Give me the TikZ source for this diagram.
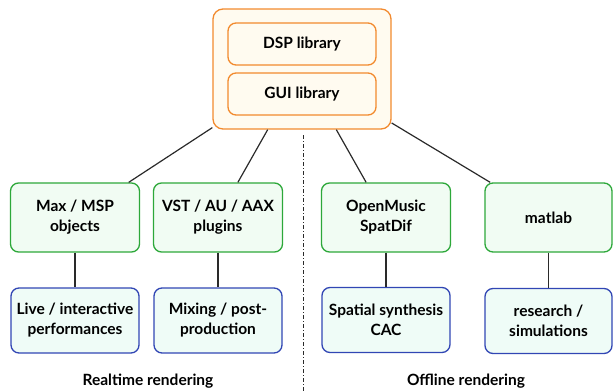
\documentclass[tikz,border=0pt]{standalone}
\usepackage{fontspec}
\setmainfont{Lato}
\usepackage{xcolor}
\definecolor{libline}{HTML}{F28A2E}
\definecolor{libfill}{HTML}{FFFBF0}
\definecolor{toolline}{HTML}{2DA83A}
\definecolor{toolfill}{HTML}{F1FCF3}
\definecolor{useline}{HTML}{3146B4}
\definecolor{usefill}{HTML}{EFFCF7}
\definecolor{wire}{HTML}{2A2A2A}
\tikzset{
  box/.style={rectangle, rounded corners=8pt, line width=1.3pt, inner sep=0pt,
    align=center, font=\bfseries\fontsize{15.5}{20}\selectfont},
  libbox/.style={box, draw=libline, fill=libfill, minimum width=148pt, minimum height=42pt},
  toolbox/.style={box, draw=toolline, fill=toolfill, minimum width=129pt, minimum height=69pt},
  usebox/.style={box, draw=useline, fill=usefill, minimum width=128pt, minimum height=65pt},
  wire/.style={draw=wire, line width=1.2pt},
  caption/.style={font=\bfseries\fontsize{15.5}{20}\selectfont}
}
\begin{document}
\begin{tikzpicture}[x=1pt,y=-1pt]
    \useasboundingbox (0,0) rectangle (613,391);

    % outer frame with both libraries
    \node[box, draw=libline, fill=libfill, rounded corners=10pt,
      minimum width=178pt, minimum height=120pt] (core) at (302,69) {};
    \node[libbox] (dsp) at (302,44) {DSP library};
    \node[libbox] (gui) at (302,94) {GUI library};

    % realtime side
    \node[toolbox] (max) at (75,217.5) {Max / MSP\\objects};
    \node[toolbox] (vst) at (218,217.5) {VST / AU / AAX\\plugins};
    \node[usebox] (live) at (75,320.5) {Live / interactive\\performances};
    \node[usebox] (mix) at (218,320.5) {Mixing / post-\\production};

    % offline side
    \node[toolbox] (om) at (386,217.5) {OpenMusic\\SpatDif};
    \node[toolbox, minimum width=127pt] (mat) at (548.5,217.5) {matlab};
    \node[usebox] (spat) at (386,320) {Spatial synthesis\\CAC};
    \node[usebox, minimum width=127pt] (res) at (548.5,321) {research /\\simulations};

    \draw[wire] (core) -- (max);
    \draw[wire] (core) -- (vst);
    \draw[wire] (core) -- (om);
    \draw[wire] (core) -- (mat);
    \draw[wire] (max) -- (live);
    \draw[wire] (vst) -- (mix);
    \draw[wire] (om) -- (spat);
    \draw[wire] (mat) -- (res);

    % separator
    \coordinate (septop) at (303,135);
    \coordinate (sepbot) at (303,391);
    \draw[wire, line width=0.6pt, dash pattern=on 4pt off 2pt on 1pt off 2pt] (septop) -- (sepbot);

    \node[caption] (rt) at (148,381) {Realtime rendering};
    \node[caption] (off) at (466,381) {Offline rendering};
\end{tikzpicture}
\end{document}
